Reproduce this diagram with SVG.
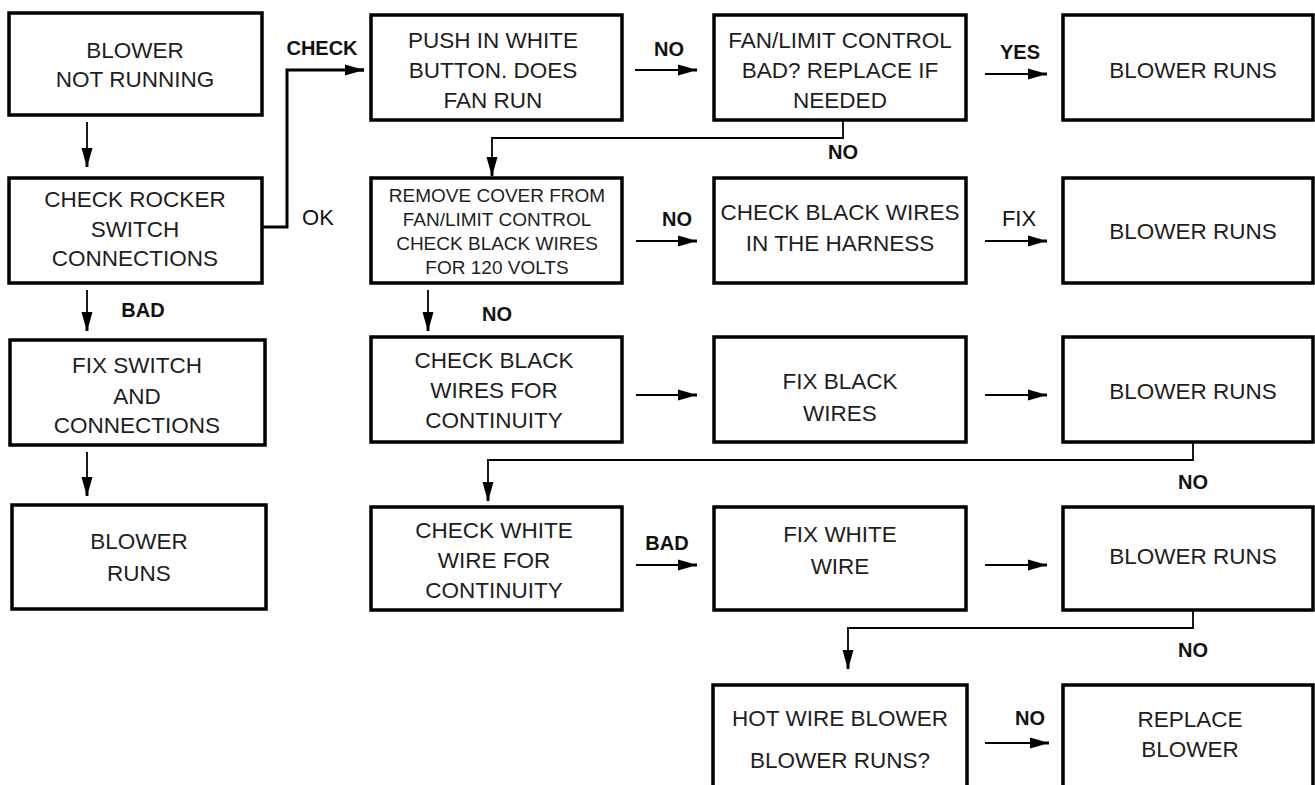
<svg xmlns="http://www.w3.org/2000/svg" width="1315" height="785" viewBox="0 0 1315 785">
<defs>
<style>
.box{fill:#fff;stroke:#000;stroke-width:3.5}
.t{font-family:"Liberation Sans",Arial,sans-serif;font-size:22.5px;fill:#1e1e1e;text-anchor:middle}
.s{font-size:19px}
.lb{font-family:"Liberation Sans",Arial,sans-serif;font-size:20px;font-weight:bold;fill:#111;text-anchor:middle}
.ln{font-family:"Liberation Sans",Arial,sans-serif;font-size:22px;fill:#111;text-anchor:middle}
.c{fill:none;stroke:#000;stroke-width:1.8;marker-end:url(#ah)}
</style>
<marker id="ah" markerUnits="userSpaceOnUse" markerWidth="22" markerHeight="14" refX="19" refY="0" viewBox="0 -7 22 14" orient="auto" overflow="visible">
<path d="M0,-5.5 L14,-1.6 L19,-1.4 L19,1.4 L14,1.6 L0,5.5 Z" fill="#000"/>
</marker>
</defs>
<rect width="1315" height="785" fill="#fff"/>

<g id="connectors">
<path class="c" d="M87,122 V167"/>
<path class="c" d="M262,227 H287 V70 H364" style="stroke-width:3"/>
<path class="c" d="M635,70 H697"/>
<path class="c" d="M985,74 H1047"/>
<path class="c" d="M843,120 V138 H492 V176"/>
<path class="c" d="M87,290 V331"/>
<path class="c" d="M87,452 V496"/>
<path class="c" d="M428,290 V331"/>
<path class="c" d="M636,241 H697"/>
<path class="c" d="M985,241 H1047"/>
<path class="c" d="M636,395 H697"/>
<path class="c" d="M985,395 H1047"/>
<path class="c" d="M1193,442 V460 H488 V501"/>
<path class="c" d="M636,565 H697"/>
<path class="c" d="M985,565 H1047"/>
<path class="c" d="M1193,610 V628 H848 V669"/>
<path class="c" d="M985,743 H1049"/>
</g>

<g id="labels">
<text class="lb" x="322" y="55">CHECK</text>
<text class="ln" x="318" y="225">OK</text>
<text class="lb" x="143" y="317">BAD</text>
<text class="lb" x="669" y="56">NO</text>
<text class="lb" x="1020" y="59">YES</text>
<text class="lb" x="843" y="159">NO</text>
<text class="lb" x="677" y="226">NO</text>
<text class="ln" x="1019" y="226">FIX</text>
<text class="lb" x="497" y="321">NO</text>
<text class="lb" x="1193" y="489">NO</text>
<text class="lb" x="667" y="550">BAD</text>
<text class="lb" x="1193" y="657">NO</text>
<text class="lb" x="1030" y="725">NO</text>
</g>

<g id="n1"><rect class="box" x="9" y="13" width="253" height="102"/>
<text class="t" x="135" y="58">BLOWER</text><text class="t" x="135" y="87">NOT RUNNING</text></g>
<g id="n2"><rect class="box" x="9" y="178" width="253" height="105"/>
<text class="t" x="135" y="207">CHECK ROCKER</text><text class="t" x="135" y="237">SWITCH</text><text class="t" x="135" y="266">CONNECTIONS</text></g>
<g id="n3"><rect class="box" x="10" y="340" width="255" height="105"/>
<text class="t" x="137" y="373">FIX SWITCH</text><text class="t" x="137" y="404">AND</text><text class="t" x="137" y="433">CONNECTIONS</text></g>
<g id="n4"><rect class="box" x="12" y="505" width="254" height="104"/>
<text class="t" x="139" y="549">BLOWER</text><text class="t" x="139" y="581">RUNS</text></g>

<g id="n5"><rect class="box" x="371" y="15" width="251" height="105"/>
<text class="t" x="493" y="48">PUSH IN WHITE</text><text class="t" x="493" y="78">BUTTON. DOES</text><text class="t" x="493" y="108">FAN RUN</text></g>
<g id="n6"><rect class="box" x="371" y="178" width="251" height="105"/>
<text class="t s" x="497" y="202">REMOVE COVER FROM</text><text class="t s" x="497" y="226">FAN/LIMIT CONTROL</text><text class="t s" x="497" y="250">CHECK BLACK WIRES</text><text class="t s" x="497" y="274">FOR 120 VOLTS</text></g>
<g id="n7"><rect class="box" x="371" y="337" width="251" height="105"/>
<text class="t" x="494" y="368">CHECK BLACK</text><text class="t" x="494" y="398">WIRES FOR</text><text class="t" x="494" y="428">CONTINUITY</text></g>
<g id="n8"><rect class="box" x="371" y="507" width="251" height="103"/>
<text class="t" x="494" y="538">CHECK WHITE</text><text class="t" x="494" y="568">WIRE FOR</text><text class="t" x="494" y="598">CONTINUITY</text></g>

<g id="n9"><rect class="box" x="714" y="15" width="252" height="105"/>
<text class="t" x="840" y="48">FAN/LIMIT CONTROL</text><text class="t" x="840" y="78">BAD? REPLACE IF</text><text class="t" x="840" y="108">NEEDED</text></g>
<g id="n10"><rect class="box" x="714" y="178" width="252" height="105"/>
<text class="t" x="840" y="220">CHECK BLACK WIRES</text><text class="t" x="840" y="251">IN THE HARNESS</text></g>
<g id="n11"><rect class="box" x="714" y="337" width="252" height="105"/>
<text class="t" x="840" y="389">FIX BLACK</text><text class="t" x="840" y="421">WIRES</text></g>
<g id="n12"><rect class="box" x="714" y="507" width="252" height="103"/>
<text class="t" x="840" y="542">FIX WHITE</text><text class="t" x="840" y="574">WIRE</text></g>
<g id="n13"><rect class="box" x="713" y="685" width="254" height="110"/>
<text class="t" x="840" y="726">HOT WIRE BLOWER</text><text class="t" x="840" y="768">BLOWER RUNS?</text></g>

<g id="n14"><rect class="box" x="1063" y="15" width="250" height="105"/>
<text class="t" x="1193" y="78">BLOWER RUNS</text></g>
<g id="n15"><rect class="box" x="1063" y="178" width="250" height="105"/>
<text class="t" x="1193" y="239">BLOWER RUNS</text></g>
<g id="n16"><rect class="box" x="1063" y="337" width="250" height="105"/>
<text class="t" x="1193" y="399">BLOWER RUNS</text></g>
<g id="n17"><rect class="box" x="1063" y="507" width="250" height="103"/>
<text class="t" x="1193" y="564">BLOWER RUNS</text></g>
<g id="n18"><rect class="box" x="1063" y="685" width="250" height="110"/>
<text class="t" x="1190" y="727">REPLACE</text><text class="t" x="1190" y="757">BLOWER</text></g>
</svg>
